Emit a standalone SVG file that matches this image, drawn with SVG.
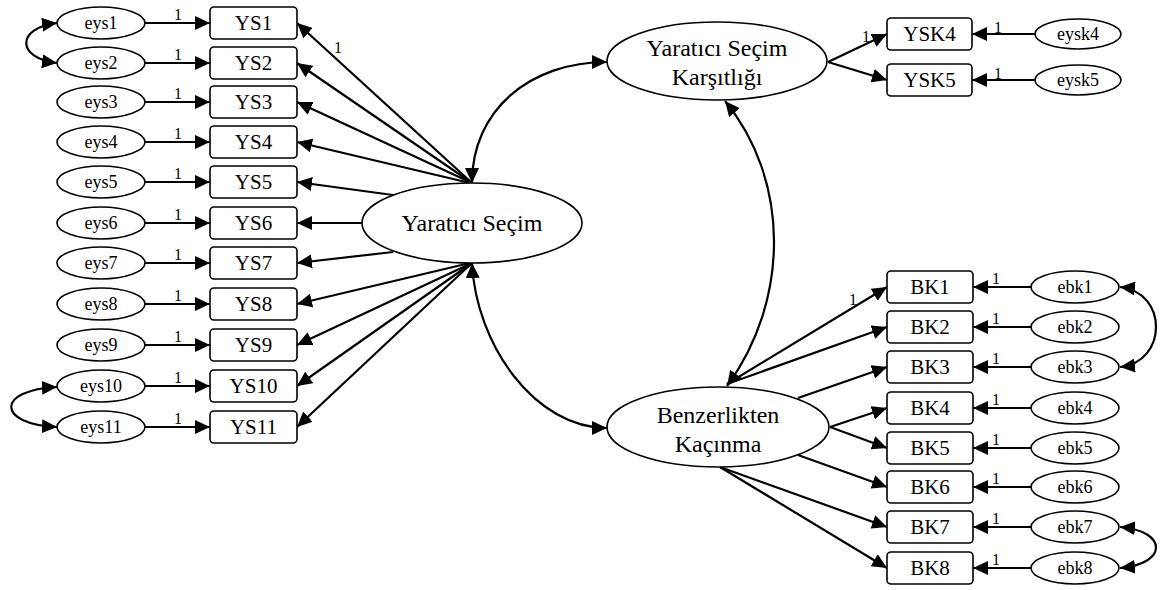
<svg xmlns="http://www.w3.org/2000/svg" width="1160" height="590" viewBox="0 0 1160 590">
  <style>
    .box { fill: #fff; stroke: #000; stroke-width: 1.6; }
    .ell { fill: #fff; stroke: #000; stroke-width: 1.6; }
    .lbl { text-anchor: middle; fill: #000; }
    .obs { font-size: 21px; }
    .err { font-size: 18px; }
    .lat { font-size: 24px; }
    .one { font-size: 16px; text-anchor: middle; fill: #000; }
    .edge { fill: none; stroke: #000; stroke-width: 2.2; marker-end: url(#ah); }
    .cov { fill: none; stroke: #000; stroke-width: 2.2; marker-start: url(#ah); marker-end: url(#ah); }
  </style>
  <defs>
    <marker id="ah" markerUnits="userSpaceOnUse" markerWidth="16" markerHeight="14" refX="15" refY="7" orient="auto-start-reverse">
      <path d="M0,0 L15,7 L0,14 Z" fill="#000"/>
    </marker>
  </defs>
  <rect width="1160" height="590" fill="#fff"/>

  <g font-family="Liberation Serif, serif">
  <!-- connectors -->
  <g id="connectors">
    <!-- error terms to YS indicators -->
    <path class="edge" d="M145,23 H210"/>
    <path class="edge" d="M145,63 H210"/>
    <path class="edge" d="M145,102 H210"/>
    <path class="edge" d="M145,142 H210"/>
    <path class="edge" d="M145,182 H210"/>
    <path class="edge" d="M145,223 H210"/>
    <path class="edge" d="M145,263 H210"/>
    <path class="edge" d="M145,304 H210"/>
    <path class="edge" d="M145,345 H210"/>
    <path class="edge" d="M145,386 H210"/>
    <path class="edge" d="M145,427 H210"/>
    <!-- Yaratıcı Seçim loadings -->
    <path class="edge" d="M472,183 L297,23"/>
    <path class="edge" d="M472,183 L297,63"/>
    <path class="edge" d="M472,183 L297,102"/>
    <path class="edge" d="M470,183 L297,142"/>
    <path class="edge" d="M393,195 L297,182"/>
    <path class="edge" d="M363,223 L297,223"/>
    <path class="edge" d="M393,252 L297,263"/>
    <path class="edge" d="M470,263 L297,304"/>
    <path class="edge" d="M472,263 L297,345"/>
    <path class="edge" d="M472,263 L297,386"/>
    <path class="edge" d="M472,263 L297,427"/>
    <!-- Yaratıcı Seçim Karşıtlığı loadings -->
    <path class="edge" d="M828,62 L887,34"/>
    <path class="edge" d="M828,62 L887,80"/>
    <path class="edge" d="M1035,34 L972,34"/>
    <path class="edge" d="M1035,80 L972,80"/>
    <!-- Benzerlikten Kaçınma loadings -->
    <path class="edge" d="M727,384 L887,287"/>
    <path class="edge" d="M727,384 L887,327"/>
    <path class="edge" d="M798,398 L887,367"/>
    <path class="edge" d="M830,427 L887,408"/>
    <path class="edge" d="M830,427 L887,448"/>
    <path class="edge" d="M798,455 L887,487"/>
    <path class="edge" d="M720,467 L887,527"/>
    <path class="edge" d="M720,467 L887,568"/>
    <!-- error terms to BK indicators -->
    <path class="edge" d="M1031,287 H973"/>
    <path class="edge" d="M1031,327 H973"/>
    <path class="edge" d="M1031,367 H973"/>
    <path class="edge" d="M1031,408 H973"/>
    <path class="edge" d="M1031,448 H973"/>
    <path class="edge" d="M1031,487 H973"/>
    <path class="edge" d="M1031,527 H973"/>
    <path class="edge" d="M1031,568 H973"/>
    <!-- covariances -->
    <path class="cov" d="M57,23 C16,28 16,58 57,63"/>
    <path class="cov" d="M57,387 C-4,390 -4,424 57,427"/>
    <path class="cov" d="M472,183 C472,110 530,62 607,62"/>
    <path class="cov" d="M472,263 C476,345 535,428 607,428"/>
    <path class="cov" d="M725,101 C790,180 790,300 727,386"/>
    <path class="cov" d="M1120,287 C1168,292 1168,362 1120,367"/>
    <path class="cov" d="M1120,527 C1168,531 1168,564 1120,568"/>
    <!-- fixed loadings -->
    <text class="one" x="178" y="20">1</text>
    <text class="one" x="178" y="60">1</text>
    <text class="one" x="178" y="99">1</text>
    <text class="one" x="178" y="139">1</text>
    <text class="one" x="178" y="179">1</text>
    <text class="one" x="178" y="220">1</text>
    <text class="one" x="178" y="260">1</text>
    <text class="one" x="178" y="301">1</text>
    <text class="one" x="178" y="342">1</text>
    <text class="one" x="178" y="383">1</text>
    <text class="one" x="178" y="424">1</text>
    <text class="one" x="338" y="53">1</text>
    <text class="one" x="866" y="42">1</text>
    <text class="one" x="998" y="33">1</text>
    <text class="one" x="998" y="79">1</text>
    <text class="one" x="853" y="305">1</text>
    <text class="one" x="996" y="284">1</text>
    <text class="one" x="996" y="324">1</text>
    <text class="one" x="996" y="364">1</text>
    <text class="one" x="996" y="405">1</text>
    <text class="one" x="996" y="445">1</text>
    <text class="one" x="996" y="484">1</text>
    <text class="one" x="996" y="524">1</text>
    <text class="one" x="996" y="565">1</text>
  </g>

  <!-- error terms, left -->
  <g id="eys1"><ellipse class="ell" cx="101" cy="23" rx="44" ry="16"/><text class="lbl err" x="101" y="29">eys1</text></g>
  <g id="eys2"><ellipse class="ell" cx="101" cy="63" rx="44" ry="16"/><text class="lbl err" x="101" y="69">eys2</text></g>
  <g id="eys3"><ellipse class="ell" cx="101" cy="102" rx="44" ry="16"/><text class="lbl err" x="101" y="108">eys3</text></g>
  <g id="eys4"><ellipse class="ell" cx="101" cy="142" rx="44" ry="16"/><text class="lbl err" x="101" y="148">eys4</text></g>
  <g id="eys5"><ellipse class="ell" cx="101" cy="182" rx="44" ry="16"/><text class="lbl err" x="101" y="188">eys5</text></g>
  <g id="eys6"><ellipse class="ell" cx="101" cy="223" rx="44" ry="16"/><text class="lbl err" x="101" y="229">eys6</text></g>
  <g id="eys7"><ellipse class="ell" cx="101" cy="263" rx="44" ry="16"/><text class="lbl err" x="101" y="269">eys7</text></g>
  <g id="eys8"><ellipse class="ell" cx="101" cy="304" rx="44" ry="16"/><text class="lbl err" x="101" y="310">eys8</text></g>
  <g id="eys9"><ellipse class="ell" cx="101" cy="345" rx="44" ry="16"/><text class="lbl err" x="101" y="351">eys9</text></g>
  <g id="eys10"><ellipse class="ell" cx="101" cy="386" rx="44" ry="16"/><text class="lbl err" x="101" y="392">eys10</text></g>
  <g id="eys11"><ellipse class="ell" cx="101" cy="427" rx="44" ry="16"/><text class="lbl err" x="101" y="433">eys11</text></g>

  <!-- YS indicators -->
  <g id="YS1"><rect class="box" x="210" y="7" width="87" height="32" rx="4"/><text class="lbl obs" x="253.5" y="30">YS1</text></g>
  <g id="YS2"><rect class="box" x="210" y="47" width="87" height="32" rx="4"/><text class="lbl obs" x="253.5" y="70">YS2</text></g>
  <g id="YS3"><rect class="box" x="210" y="86" width="87" height="32" rx="4"/><text class="lbl obs" x="253.5" y="109">YS3</text></g>
  <g id="YS4"><rect class="box" x="210" y="126" width="87" height="32" rx="4"/><text class="lbl obs" x="253.5" y="149">YS4</text></g>
  <g id="YS5"><rect class="box" x="210" y="166" width="87" height="32" rx="4"/><text class="lbl obs" x="253.5" y="189">YS5</text></g>
  <g id="YS6"><rect class="box" x="210" y="207" width="87" height="32" rx="4"/><text class="lbl obs" x="253.5" y="230">YS6</text></g>
  <g id="YS7"><rect class="box" x="210" y="247" width="87" height="32" rx="4"/><text class="lbl obs" x="253.5" y="270">YS7</text></g>
  <g id="YS8"><rect class="box" x="210" y="288" width="87" height="32" rx="4"/><text class="lbl obs" x="253.5" y="311">YS8</text></g>
  <g id="YS9"><rect class="box" x="210" y="329" width="87" height="32" rx="4"/><text class="lbl obs" x="253.5" y="352">YS9</text></g>
  <g id="YS10"><rect class="box" x="210" y="370" width="87" height="32" rx="4"/><text class="lbl obs" x="253.5" y="393">YS10</text></g>
  <g id="YS11"><rect class="box" x="210" y="411" width="87" height="32" rx="4"/><text class="lbl obs" x="253.5" y="434">YS11</text></g>

  <!-- latent variables -->
  <g id="YaraticiSecim"><ellipse class="ell" cx="472" cy="223" rx="110" ry="40"/><text class="lbl lat" x="472" y="231">Yaratıcı Seçim</text></g>
  <g id="YaraticiSecimKarsitligi"><ellipse class="ell" cx="717" cy="61" rx="110" ry="39"/><text class="lbl lat" x="717" y="56">Yaratıcı Seçim</text><text class="lbl lat" x="717" y="85">Karşıtlığı</text></g>
  <g id="BenzerliktenKacinma"><ellipse class="ell" cx="718" cy="427" rx="111" ry="40"/><text class="lbl lat" x="718" y="423">Benzerlikten</text><text class="lbl lat" x="718" y="452">Kaçınma</text></g>

  <!-- YSK indicators and errors -->
  <g id="YSK4"><rect class="box" x="887" y="18" width="85" height="32" rx="4"/><text class="lbl obs" x="929.5" y="41">YSK4</text></g>
  <g id="YSK5"><rect class="box" x="887" y="64" width="85" height="32" rx="4"/><text class="lbl obs" x="929.5" y="87">YSK5</text></g>
  <g id="eysk4"><ellipse class="ell" cx="1078" cy="34" rx="43" ry="15"/><text class="lbl err" x="1078" y="40">eysk4</text></g>
  <g id="eysk5"><ellipse class="ell" cx="1078" cy="80" rx="43" ry="15"/><text class="lbl err" x="1078" y="86">eysk5</text></g>

  <!-- BK indicators -->
  <g id="BK1"><rect class="box" x="887" y="271" width="86" height="32" rx="4"/><text class="lbl obs" x="930" y="294">BK1</text></g>
  <g id="BK2"><rect class="box" x="887" y="311" width="86" height="32" rx="4"/><text class="lbl obs" x="930" y="334">BK2</text></g>
  <g id="BK3"><rect class="box" x="887" y="351" width="86" height="32" rx="4"/><text class="lbl obs" x="930" y="374">BK3</text></g>
  <g id="BK4"><rect class="box" x="887" y="392" width="86" height="32" rx="4"/><text class="lbl obs" x="930" y="415">BK4</text></g>
  <g id="BK5"><rect class="box" x="887" y="432" width="86" height="32" rx="4"/><text class="lbl obs" x="930" y="455">BK5</text></g>
  <g id="BK6"><rect class="box" x="887" y="471" width="86" height="32" rx="4"/><text class="lbl obs" x="930" y="494">BK6</text></g>
  <g id="BK7"><rect class="box" x="887" y="511" width="86" height="32" rx="4"/><text class="lbl obs" x="930" y="534">BK7</text></g>
  <g id="BK8"><rect class="box" x="887" y="552" width="86" height="32" rx="4"/><text class="lbl obs" x="930" y="575">BK8</text></g>

  <!-- BK error terms -->
  <g id="ebk1"><ellipse class="ell" cx="1075" cy="287" rx="44" ry="16"/><text class="lbl err" x="1075" y="293">ebk1</text></g>
  <g id="ebk2"><ellipse class="ell" cx="1075" cy="327" rx="44" ry="16"/><text class="lbl err" x="1075" y="333">ebk2</text></g>
  <g id="ebk3"><ellipse class="ell" cx="1075" cy="367" rx="44" ry="16"/><text class="lbl err" x="1075" y="373">ebk3</text></g>
  <g id="ebk4"><ellipse class="ell" cx="1075" cy="408" rx="44" ry="16"/><text class="lbl err" x="1075" y="414">ebk4</text></g>
  <g id="ebk5"><ellipse class="ell" cx="1075" cy="448" rx="44" ry="16"/><text class="lbl err" x="1075" y="454">ebk5</text></g>
  <g id="ebk6"><ellipse class="ell" cx="1075" cy="487" rx="44" ry="16"/><text class="lbl err" x="1075" y="493">ebk6</text></g>
  <g id="ebk7"><ellipse class="ell" cx="1075" cy="527" rx="44" ry="16"/><text class="lbl err" x="1075" y="533">ebk7</text></g>
  <g id="ebk8"><ellipse class="ell" cx="1075" cy="568" rx="44" ry="16"/><text class="lbl err" x="1075" y="574">ebk8</text></g>
  </g>
</svg>
